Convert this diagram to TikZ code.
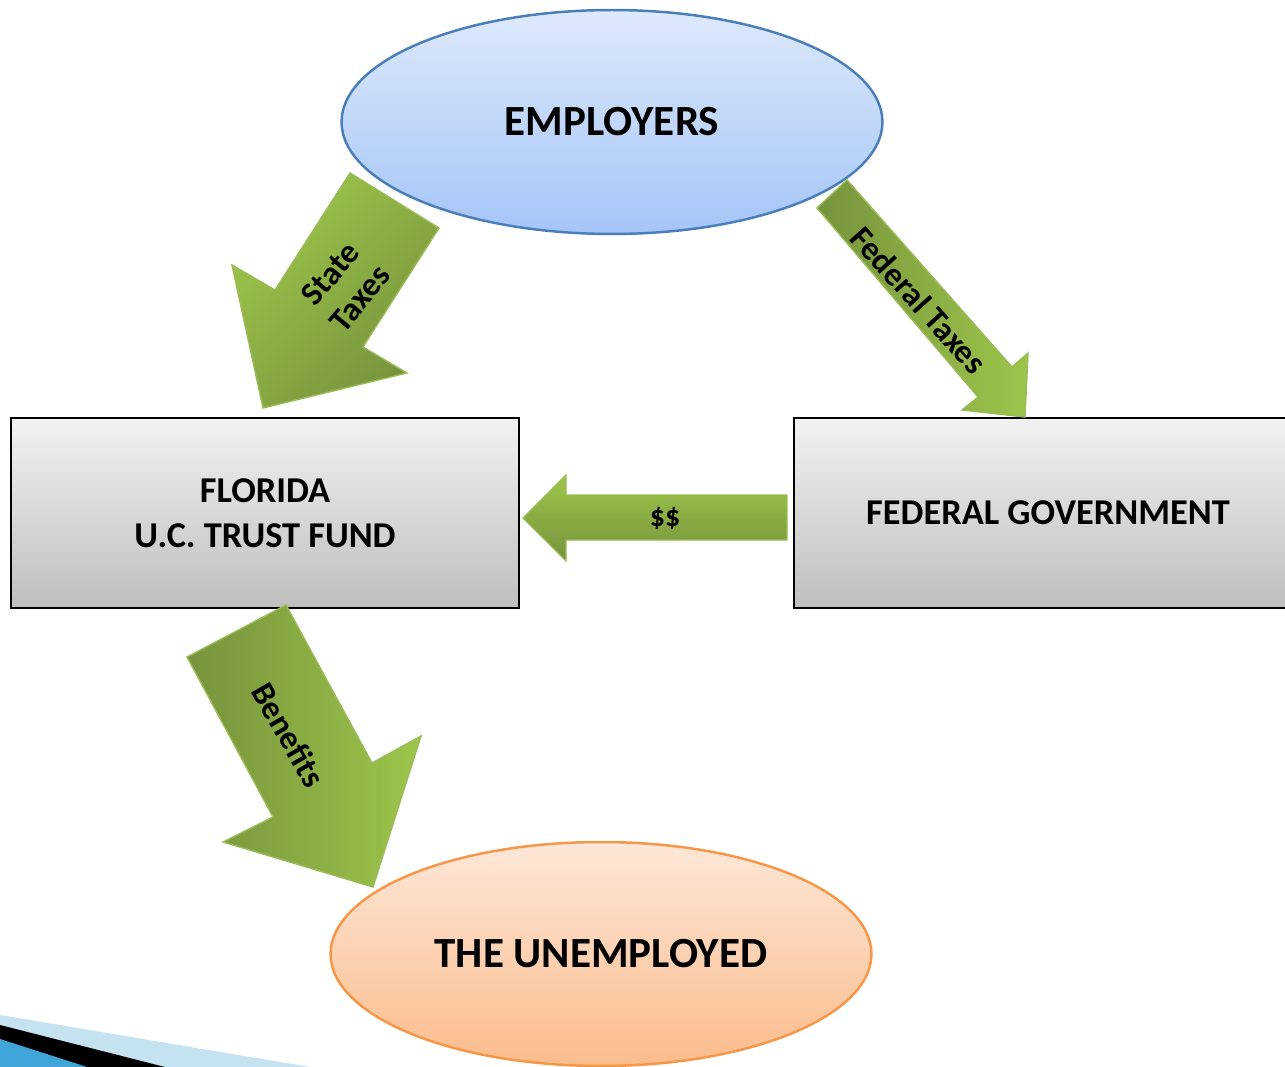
\documentclass[tikz,border=0pt]{standalone}
\usepackage{fontspec}
\setmainfont{Carlito}
\usetikzlibrary{shapes.geometric}

\definecolor{empTop}{HTML}{DDE9FB}
\definecolor{empBot}{HTML}{A5C5F7}
\definecolor{empEdge}{HTML}{4A7EBB}
\definecolor{unTop}{HTML}{FDE7D8}
\definecolor{unBot}{HTML}{FABC8C}
\definecolor{unEdge}{HTML}{F79646}
\definecolor{boxTop}{HTML}{F2F2F2}
\definecolor{boxBot}{HTML}{BEBEBE}
\definecolor{arrLight}{HTML}{9DC54B}
\definecolor{arrDark}{HTML}{76933C}
\definecolor{arrEdge}{HTML}{9BBB59}
\definecolor{stripeLight}{HTML}{C4E2EF}
\definecolor{stripeBlue}{HTML}{3FA5D8}

\begin{document}
\begin{tikzpicture}[x=0.02cm,y=-0.02cm,
  every node/.style={inner sep=0pt},
  oval/.style={ellipse, line width=1.4pt, minimum width=10.82cm, minimum height=4.48cm,
    font=\bfseries\fontsize{24.5}{29}\selectfont},
  fundbox/.style={rectangle, draw=black, line width=1.6pt, minimum width=10.16cm,
    minimum height=3.8cm, top color=boxTop, bottom color=boxBot, align=center,
    font=\bfseries\fontsize{20.7}{25.5}\selectfont},
  flow/.style={draw=arrEdge, line width=0.8pt, line join=miter},
  flowlabel/.style={align=center, font=\bfseries\fontsize{19}{22}\selectfont}]
\useasboundingbox (0,0) rectangle (1285,1067);
\clip (0,0) rectangle (1285,1067);

% corner stripes
\fill [stripeLight] (0,1015) -- (310,1067) -- (0,1067) -- cycle;
\fill [black] (0,1025) -- (165,1067) -- (0,1067) -- cycle;
\fill [stripeBlue] (0,1039) -- (87,1067) -- (0,1067) -- cycle;

% the four parties
\node [oval, draw=empEdge, top color=empTop, bottom color=empBot] (employers) at (612,122) {EMPLOYERS};
\node [oval, draw=unEdge, top color=unTop, bottom color=unBot] (unemployed) at (601,954) {THE UNEMPLOYED};
\node [fundbox] (trustfund) at (265,513) {FLORIDA\\U.C. TRUST FUND};
\node [fundbox] (fedgov) at (1048,513) {FEDERAL GOVERNMENT};

% money flows
\draw [flow, top color=arrLight, bottom color=arrDark, shading angle=45]
  (350,173) -- (439,228) -- (363,347) -- (407,373) -- (263,408) -- (232,265) -- (275,290) -- cycle;
\draw [flow, left color=arrDark, right color=arrLight]
  (847,180) -- (1012,367) -- (1028,353) -- (1025,417) -- (962,410) -- (978,397) -- (817,208) -- cycle;
\draw [flow, top color=arrLight, bottom color=arrDark]
  (787,495) -- (566,495) -- (566,475) -- (523,518) -- (566,561) -- (566,540) -- (787,540) -- cycle;
\draw [flow, left color=arrDark, right color=arrLight]
  (286,605) -- (372,763) -- (421,736) -- (373,887) -- (223,842) -- (273,817) -- (187,657) -- cycle;

\node [flowlabel, rotate=50] (statetax) at (345,286) {State\\Taxes};
\node [flowlabel, rotate=-48] (fedtax) at (919,300) {Federal Taxes};
\node [flowlabel, font=\bfseries\fontsize{17}{20}\selectfont] (grant) at (665,518) {\$\$};
\node [flowlabel, rotate=-60] (benefits) at (289,735) {Benefits};
\end{tikzpicture}
\end{document}
